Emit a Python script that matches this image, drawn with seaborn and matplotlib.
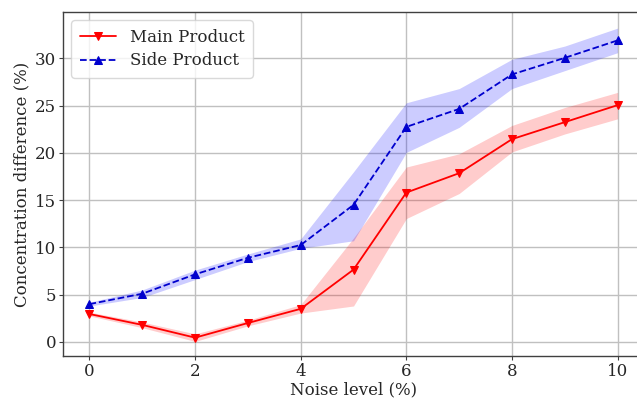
import matplotlib
matplotlib.use("Agg")
import matplotlib.pyplot as plt
import seaborn as sns
import pandas as pd
import numpy as np

noise = [0, 1, 2, 3, 4, 5, 6, 7, 8, 9, 10]
main_mean = [2.95, 1.8, 0.45, 2.0, 3.5, 7.65, 15.8, 17.85, 21.45, 23.25, 25.05]
main_low = [2.75, 1.5, 0.05, 1.7, 3.05, 3.8, 13.05, 15.7, 20.1, 22.0, 23.6]
main_high = [3.15, 2.1, 0.85, 2.3, 3.95, 11.0, 18.5, 19.9, 22.9, 24.8, 26.4]
side_mean = [4.0, 5.1, 7.15, 8.9, 10.25, 14.5, 22.75, 24.65, 28.3, 30.05, 31.9]
side_low = [3.8, 4.7, 6.6, 8.5, 9.9, 10.7, 20.05, 22.7, 26.8, 28.7, 30.6]
side_high = [4.2, 5.5, 7.6, 9.3, 10.9, 18.0, 25.3, 26.8, 29.9, 31.3, 33.2]

df = pd.DataFrame({
    "noise": noise * 2,
    "value": main_mean + side_mean,
    "series": ["Main Product"] * len(noise) + ["Side Product"] * len(noise),
})

sns.set_style("whitegrid", {
    "axes.edgecolor": "#404040",
    "grid.color": "#c0c0c0",
    "xtick.bottom": True,
    "ytick.left": True,
})
plt.rcParams["font.family"] = ["DejaVu Serif"]
plt.rcParams["font.size"] = 12

fig = plt.figure(figsize=(6.37, 4.01), dpi=100)
ax = fig.add_axes([0.099, 0.112, 0.912, 0.858])

red = "#ff0000"
blue = "#0000cd"

ax.fill_between(noise, main_low, main_high, color=red, alpha=0.2, linewidth=0)
ax.fill_between(noise, side_low, side_high, color="#0000ff", alpha=0.2, linewidth=0)

sns.lineplot(data=df[df.series == "Main Product"], x="noise", y="value", ax=ax,
             color=red, marker="v", markersize=6, markeredgecolor=red,
             linewidth=1.3, label="Main Product")
sns.lineplot(data=df[df.series == "Side Product"], x="noise", y="value", ax=ax,
             color=blue, marker="^", markersize=6, markeredgecolor=blue,
             linewidth=1.3, linestyle="--", label="Side Product")

ax.set_xlim(-0.5, 10.5)
ax.set_ylim(-1.5, 34.9)
ax.set_xticks([0, 2, 4, 6, 8, 10])
ax.set_yticks([0, 5, 10, 15, 20, 25, 30])
ax.set_xlabel("Noise level (%)", fontsize=12, labelpad=1)
ax.set_ylabel("Concentration difference (%)", fontsize=12, labelpad=3)
ax.tick_params(axis="both", labelsize=12, length=3, color="#404040", pad=2)
ax.grid(True, linewidth=1.0)
for s in ax.spines.values():
    s.set_linewidth(1.0)

leg = ax.legend(loc="upper left", fontsize=12, frameon=True, borderpad=0.5,
                handlelength=2.2, labelspacing=0.4)
leg.get_frame().set_edgecolor("#d0d0d0")

fig.savefig("out.png", dpi=100)
